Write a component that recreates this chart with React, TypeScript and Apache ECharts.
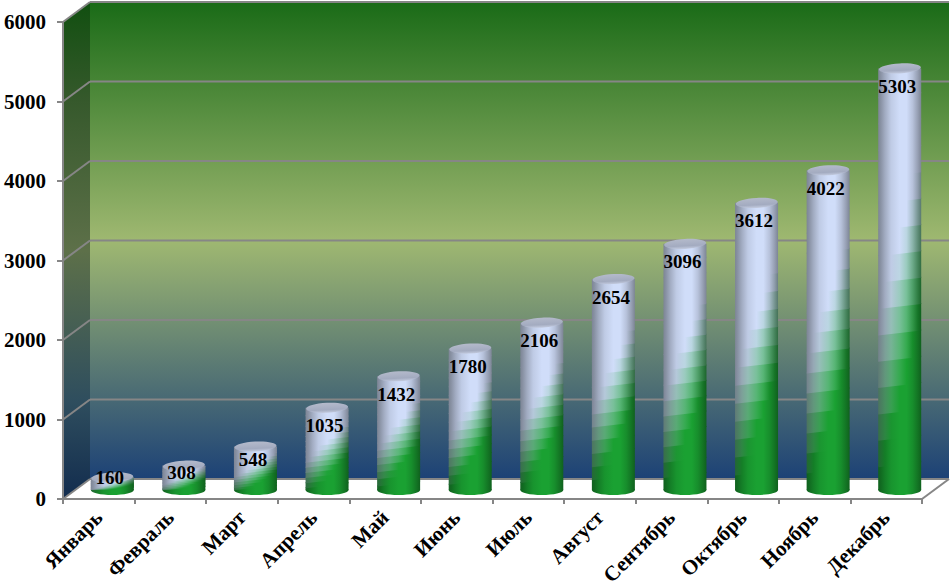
import React, { useEffect, useRef } from "react";
import * as echarts from "echarts";

const months = ["Январь", "Февраль", "Март", "Апрель", "Май", "Июнь", "Июль", "Август", "Сентябрь", "Октябрь", "Ноябрь", "Декабрь"];
const sales = [160, 308, 548, 1035, 1432, 1780, 2106, 2654, 3096, 3612, 4022, 5303];
const yTicks = [1000, 2000, 3000, 4000, 5000, 6000];

const DX = 27;
const DY = -20;
const GRID = "#868686";
const FONT = '"Liberation Serif", "Times New Roman", serif';

const GREEN = [26, 161, 50];
const LIGHT = [208, 221, 249];
const shadeStops: [number, number][] = [
  [0, 0.6], [0.06, 0.66], [0.16, 0.78], [0.3, 0.92], [0.5, 1], [0.66, 1], [0.8, 0.88], [0.92, 0.72], [1, 0.6],
];

function barColor(u: number, v: number, shade: number) {
  const start = 0.045 + 0.385 * u;
  const t = Math.max(0, Math.min(1, (v - start) / 0.33));
  const c = GREEN.map((g, i) => Math.round((g + (LIGHT[i] - g) * t) * shade));
  return `rgb(${c[0]},${c[1]},${c[2]})`;
}

function bandFill(v: number) {
  return {
    type: "linear", x: 0, y: 0, x2: 1, y2: 0,
    colorStops: shadeStops.map(([u, s]) => ({ offset: u, color: barColor(u, v, s) })),
  };
}

function renderWalls(params: any, api: any) {
  const cs = params.coordSys;
  const x0 = cs.x, x1 = cs.x + cs.width, y0 = cs.y, y1 = cs.y + cs.height;
  const children: any[] = [
    {
      type: "polygon",
      shape: { points: [[x0, y1], [x0 + DX, y1 + DY], [x1 + DX, y1 + DY], [x1, y1]] },
      style: { fill: "#ffffff" },
    },
    {
      type: "polygon",
      shape: { points: [[x0, y0], [x0 + DX, y0 + DY], [x0 + DX, y1 + DY], [x0, y1]] },
      style: {
        fill: {
          type: "linear", x: 0, y: 0, x2: 0, y2: 1,
          colorStops: [
            { offset: 0, color: "#114f10" },
            { offset: 0.2, color: "#36592c" },
            { offset: 0.5, color: "#5d7049" },
            { offset: 0.8, color: "#2f4e5e" },
            { offset: 1, color: "#122c4e" },
          ],
        },
      },
    },
    {
      type: "rect",
      shape: { x: x0 + DX, y: y0 + DY, width: cs.width, height: cs.height },
      style: {
        fill: {
          type: "linear", x: 0, y: 0, x2: 0, y2: 1,
          colorStops: [
            { offset: 0, color: "#1a6b17" },
            { offset: 0.5, color: "#9fb871" },
            { offset: 1, color: "#1c4176" },
          ],
        },
      },
    },
  ];
  const line = (a: number[], b: number[]) => ({
    type: "line",
    shape: { x1: a[0], y1: a[1], x2: b[0], y2: b[1] },
    style: { stroke: GRID, lineWidth: 2, fill: "none" },
  });
  yTicks.forEach((tick) => {
    const y = api.coord([0, tick])[1];
    children.push(line([x0, y], [x0 + DX, y + DY]));
    children.push(line([x0 + DX, y + DY], [x1 + DX, y + DY]));
  });
  children.push(line([x0, y1], [x0 + DX, y1 + DY]));
  children.push(line([x0 + DX, y1 + DY], [x1 + DX, y1 + DY]));
  children.push(line([x1, y1], [x1 + DX, y1 + DY]));
  return { type: "group", children };
}

function renderBar(params: any, api: any) {
  const idx = api.value(0);
  const val = api.value(1);
  const [cxRaw, yTopRaw] = api.coord([idx, val]);
  const yBaseRaw = api.coord([idx, 0])[1];
  const cx = cxRaw + 13.5;
  const rx = 21.5;
  const ry = 5;
  const yBase = yBaseRaw - 9;
  const yTop = yTopRaw - 9;
  const h = yBase - yTop;
  const total = h + 2 * ry;
  const x0 = cx - rx, x1 = cx + rx;
  const clampY = (y: number) => Math.max(yTop, Math.min(yBase, y));
  const BANDS = 16;
  const shear = 2.5;
  const children: any[] = [
    {
      type: "ellipse",
      shape: { cx, cy: yBase, rx, ry },
      style: { fill: bandFill((ry * 0.5) / total) },
    },
  ];
  for (let k = 0; k < BANDS; k++) {
    const a = yBase - (h * k) / BANDS;
    const b = yBase - (h * (k + 1)) / BANDS;
    const v = (ry + (h * (k + 0.5)) / BANDS) / total;
    const lowL = k === 0 ? yBase : clampY(a + shear + 1);
    const lowR = k === 0 ? yBase : clampY(a - shear + 1);
    const upL = k === BANDS - 1 ? yTop : clampY(b + shear);
    const upR = k === BANDS - 1 ? yTop : clampY(b - shear);
    children.push({
      type: "polygon",
      shape: { points: [[x0, lowL], [x1, lowR], [x1, upR], [x0, upL]] },
      style: { fill: bandFill(v) },
    });
  }
  children.push({
    type: "ellipse",
    shape: { cx, cy: yTop, rx: rx - 0.5, ry },
    rotation: 0.05,
    originX: cx,
    originY: yTop,
    style: {
      fill: {
        type: "linear", x: 0, y: 0, x2: 0, y2: 1,
        colorStops: [
          { offset: 0, color: "#b4bacb" },
          { offset: 0.7, color: "#a3abc0" },
          { offset: 1, color: "#c3cbdf" },
        ],
      },
    },
  });
  const labelShift = h < 20 ? 0 : Math.min(18, h * 0.3);
  children.push({
    type: "text",
    style: {
      text: String(val),
      x: cx - 2.5,
      y: yTop + labelShift,
      fill: "#000000",
      font: `bold 19px ${FONT}`,
      align: "center",
      verticalAlign: "middle",
    },
  });
  return { type: "group", children };
}

export default function App() {
  const ref = useRef<HTMLDivElement>(null);
  useEffect(() => {
    const chart = echarts.init(ref.current!, undefined, { renderer: "svg" });
    chart.setOption({
      animation: false,
      backgroundColor: "#ffffff",
      grid: { left: 63, right: 29, top: 22, height: 477, containLabel: false, outerBoundsMode: "none" },
      xAxis: {
        type: "category",
        data: months,
        z: 5,
        axisLine: { lineStyle: { color: GRID, width: 2 } },
        axisTick: { show: true, length: 5, alignWithLabel: false, lineStyle: { color: GRID, width: 2 } },
        axisLabel: {
          interval: 0,
          rotate: 45,
          margin: 15,
          color: "#000000",
          fontFamily: FONT,
          fontWeight: "bold",
          fontSize: 21,
        },
      },
      yAxis: {
        type: "value",
        min: 0,
        max: 6000,
        interval: 1000,
        z: 5,
        splitLine: { show: false },
        axisLine: { show: true, lineStyle: { color: GRID, width: 2 } },
        axisTick: { show: true, length: 6, lineStyle: { color: GRID, width: 2 } },
        axisLabel: {
          margin: 17,
          formatter: (v: number) => String(v),
          color: "#000000",
          fontFamily: FONT,
          fontWeight: "bold",
          fontSize: 21,
        },
      },
      series: [
        {
          type: "custom",
          z: 1,
          silent: true,
          renderItem: renderWalls,
          data: [[0, 0]],
        },
        {
          type: "custom",
          z: 10,
          silent: true,
          renderItem: renderBar,
          encode: { x: 0, y: 1 },
          data: sales.map((v, i) => [i, v]),
        },
      ],
    });
    return () => chart.dispose();
  }, []);
  return <div ref={ref} style={{ position: "fixed", left: 0, top: 0, width: 951, height: 587 }} />;
}
